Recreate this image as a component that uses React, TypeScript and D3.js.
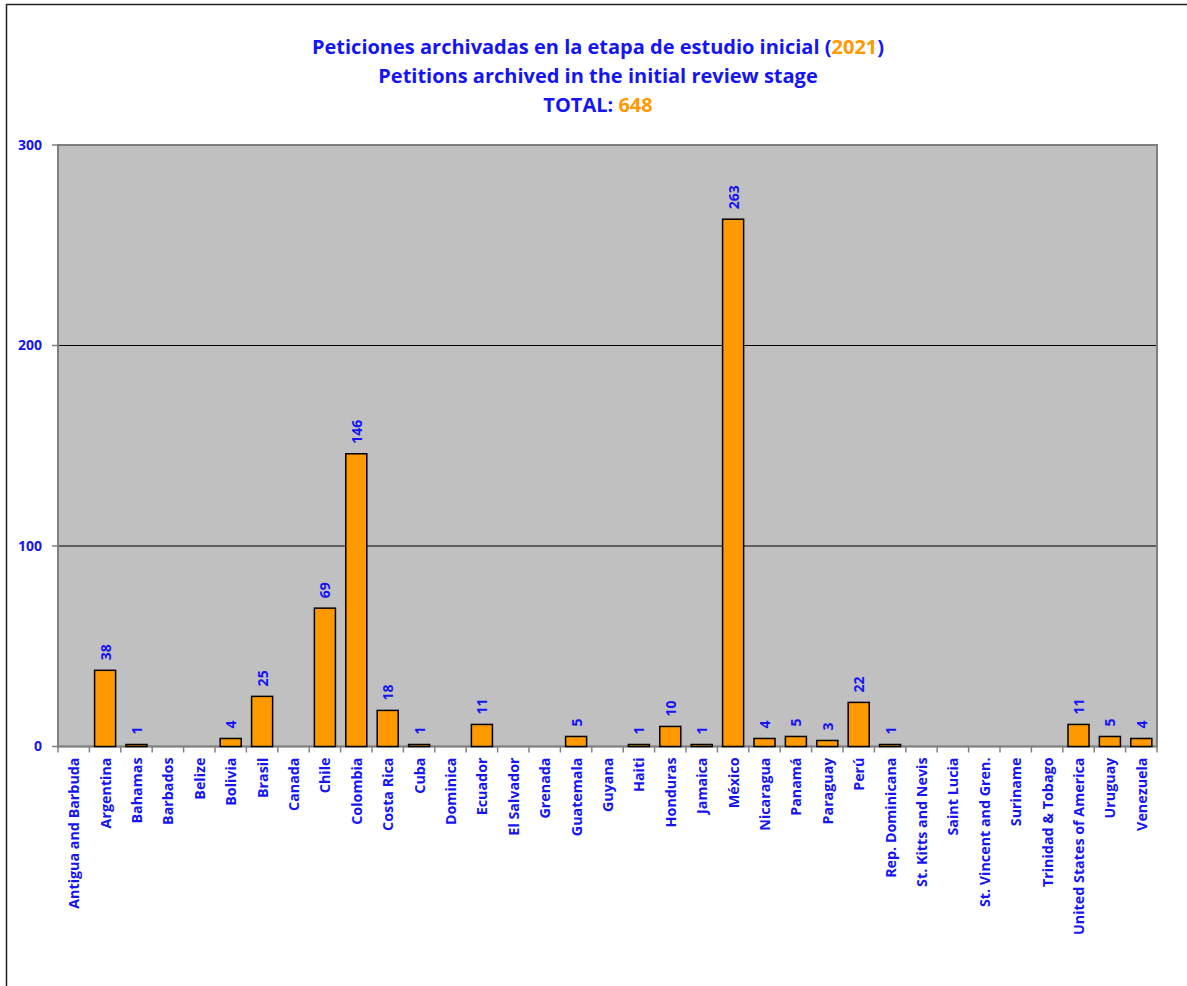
import React from "react";
import * as d3 from "d3";

const categories = [
  "Antigua and Barbuda", "Argentina", "Bahamas", "Barbados", "Belize", "Bolivia", "Brasil", "Canada",
  "Chile", "Colombia", "Costa Rica", "Cuba", "Dominica", "Ecuador", "El Salvador", "Grenada",
  "Guatemala", "Guyana", "Haiti", "Honduras", "Jamaica", "México", "Nicaragua", "Panamá",
  "Paraguay", "Perú", "Rep. Dominicana", "St. Kitts and Nevis", "Saint Lucia", "St. Vincent and Gren.",
  "Suriname", "Trinidad & Tobago", "United States of America", "Uruguay", "Venezuela",
];
const values: (number | null)[] = [
  null, 38, 1, null, null, 4, 25, null,
  69, 146, 18, 1, null, 11, null, null,
  5, null, 1, 10, 1, 263, 4, 5,
  3, 22, 1, null, null, null,
  null, null, 11, 5, 4,
];
const yTicks = [0, 100, 200, 300];

const W = 1187, H = 986;
const M = { left: 58, right: 1157, top: 145, bottom: 746.5 };
const BLUE = "#1414F5";
const ORANGE = "#FF9900";
const FONT = "'Open Sans', Lato, sans-serif";

export default function App() {
  const x = d3.scaleBand<string>().domain(categories).range([M.left, M.right]).paddingInner(0.33).paddingOuter(0.165);
  const y = d3.scaleLinear().domain([0, 300]).range([M.bottom, M.top]);
  const step = x.step();
  const edges = d3.range(categories.length + 1).map((i) => M.left + i * step);

  return (
    <svg width={W} height={H} style={{ position: "absolute", left: 0, top: 0 }} fontFamily={FONT}>
      <rect x={0} y={0} width={W} height={H} fill="#fff" />
      <path d={`M6.5,${H} V4.5 H1187`} fill="none" stroke="#222" strokeWidth={1.5} />
      {/* title */}
      <g fontWeight="bold" fontSize={20} fill={BLUE} textAnchor="middle">
        <text x={598} y={54}>
          Peticiones archivadas en la etapa de estudio inicial (<tspan fill={ORANGE}>2021</tspan>)
        </text>
        <text x={598} y={83}>Petitions archived in the initial review stage</text>
        <text x={598} y={112}>
          TOTAL: <tspan fill={ORANGE}>648</tspan>
        </text>
      </g>
      {/* plot background */}
      <rect x={M.left} y={M.top} width={M.right - M.left} height={M.bottom - M.top} fill="#C0C0C0" />
      {/* gridlines */}
      {yTicks.filter((t) => t > 0 && t < 300).map((t) => (
        <line key={t} x1={M.left} x2={M.right} y1={y(t)} y2={y(t)} stroke="#000" strokeWidth={1} />
      ))}
      {/* plot border */}
      <rect x={M.left} y={M.top} width={M.right - M.left} height={M.bottom - M.top} fill="none" stroke="#808080" strokeWidth={2} />
      {/* y ticks */}
      {yTicks.map((t) => (
        <g key={t}>
          <line x1={M.left - 6} x2={M.left} y1={y(t)} y2={y(t)} stroke="#808080" strokeWidth={1.5} />
          <text x={42} y={y(t)} dy="0.35em" textAnchor="end" fontWeight="bold" fontSize={14} fill={BLUE}>{t}</text>
        </g>
      ))}
      {/* x axis line + ticks */}
      <line x1={M.left} x2={M.right} y1={M.bottom} y2={M.bottom} stroke="#808080" strokeWidth={1.5} />
      {edges.map((e, i) => (
        <line key={i} x1={e} x2={e} y1={M.bottom} y2={M.bottom + 6} stroke="#808080" strokeWidth={1.5} />
      ))}
      {/* bars */}
      {categories.map((c, i) => {
        const v = values[i];
        if (v == null) return null;
        const bx = x(c)!;
        const by = y(v);
        return (
          <g key={c}>
            <rect x={bx} y={by} width={x.bandwidth()} height={M.bottom - by} fill={ORANGE} stroke="#000" strokeWidth={1.5} />
            <text
              transform={`translate(${bx + x.bandwidth() / 2},${by - 10}) rotate(-90)`}
              dominantBaseline="central"
              fontWeight="bold"
              fontSize={14}
              fill={BLUE}
            >
              {v}
            </text>
          </g>
        );
      })}
      {/* x labels */}
      {categories.map((c) => (
        <text
          key={c}
          transform={`translate(${x(c)! + x.bandwidth() / 2},${M.bottom + 11}) rotate(-90)`}
          textAnchor="end"
          dominantBaseline="central"
          fontWeight="bold"
          fontSize={14.3}
          fill={BLUE}
        >
          {c}
        </text>
      ))}
    </svg>
  );
}
